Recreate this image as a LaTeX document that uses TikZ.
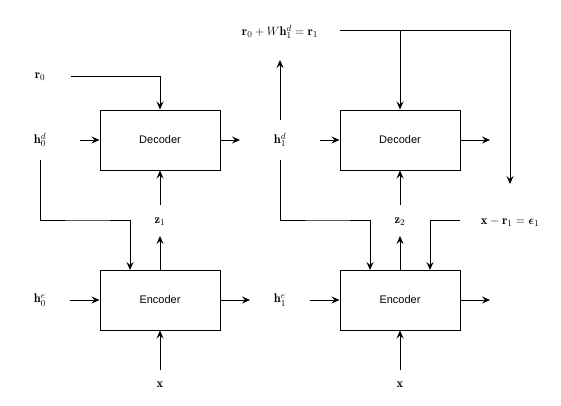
\documentclass[tikz,border=0pt]{standalone}
\usepackage{amsmath}
\usepackage{bm}
\usepackage{fontspec}
\newfontfamily\boxfont{Liberation Sans}
\usetikzlibrary{arrows.meta}
\begin{document}
\begin{tikzpicture}[x=1pt,y=-1pt,
  blk/.style={draw,line width=1pt,minimum width=120pt,minimum height=60pt,inner sep=0pt,font=\boxfont\fontsize{11}{13}\selectfont},
  lbl/.style={inner sep=1pt,font=\fontsize{12.5}{15}\selectfont},
  conn/.style={line width=1pt,-{Stealth[length=8pt,width=7pt,inset=3pt]}}]
\useasboundingbox (0,0) rectangle (561,405);
% boxes
\node[blk] (dec1) at (160,140) {Decoder};
\node[blk] (enc1) at (160,300) {Encoder};
\node[blk] (dec2) at (400,140) {Decoder};
\node[blk] (enc2) at (400,300) {Encoder};
% labels
\node[lbl] (r0) at (40,77) {$\mathbf{r}_0$};
\node[lbl] (h0d) at (40,140) {$\mathbf{h}_0^d$};
\node[lbl] (h0e) at (40,300) {$\mathbf{h}_0^e$};
\node[lbl] (z1) at (160,222) {$\mathbf{z}_1$};
\node[lbl] (x1) at (160,385) {$\mathbf{x}$};
\node[lbl] (h1d) at (280,140) {$\mathbf{h}_1^d$};
\node[lbl] (h1e) at (280,300) {$\mathbf{h}_1^e$};
\node[lbl] (z2) at (400,222) {$\mathbf{z}_2$};
\node[lbl] (x2) at (400,385) {$\mathbf{x}$};
\node[lbl] (r1) at (280,32) {$\mathbf{r}_0+W\mathbf{h}_1^d=\mathbf{r}_1$};
\node[lbl] (eps) at (510,222) {$\mathbf{x}-\mathbf{r}_1=\bm{\epsilon}_1$};
% coordinates
\coordinate (r0s) at (71,76);
\coordinate (h0ds) at (80,140);
\coordinate (h0dd) at (40,160);
\coordinate (d1o) at (240,140);
\coordinate (z1t) at (160,205);
\coordinate (z1b) at (160,236);
\coordinate (h0es) at (70,300);
\coordinate (e1o) at (250,300);
\coordinate (x1s) at (160,370);
\coordinate (h1du) at (280,120);
\coordinate (h1dup) at (280,60);
\coordinate (h1ds) at (320,140);
\coordinate (h1dd) at (280,160);
\coordinate (z2t) at (400,205);
\coordinate (z2b) at (400,236);
\coordinate (epss) at (460,220);
\coordinate (h1es) at (310,300);
\coordinate (e2o) at (490,300);
\coordinate (d2o) at (490,140);
\coordinate (x2s) at (400,370);
\coordinate (r1s) at (340,30);
\coordinate (r1e) at (510,184);
\coordinate (r1b) at (400,30);
% left column
\draw[conn] (r0s) -| (dec1.north);
\draw[conn] (h0ds) -- (dec1.west);
\draw[conn] (dec1.east) -- (d1o);
\draw[conn] (h0dd) |- (90,220) -| (130,270);
\draw[conn] (z1t) -- (dec1.south);
\draw[conn] (enc1.north) -- (z1b);
\draw[conn] (h0es) -- (enc1.west);
\draw[conn] (enc1.east) -- (e1o);
\draw[conn] (x1s) -- (enc1.south);
% right column
\draw[conn] (h1du) -- (h1dup);
\draw[conn] (h1ds) -- (dec2.west);
\draw[conn] (dec2.east) -- (d2o);
\draw[conn] (h1dd) |- (330,220) -| (370,270);
\draw[conn] (z2t) -- (dec2.south);
\draw[conn] (enc2.north) -- (z2b);
\draw[conn] (epss) -| (430,270);
\draw[conn] (h1es) -- (enc2.west);
\draw[conn] (enc2.east) -- (e2o);
\draw[conn] (x2s) -- (enc2.south);
\draw[conn] (r1s) -| (r1e);
\draw[conn] (r1b) -- (dec2.north);
\end{tikzpicture}
\end{document}
